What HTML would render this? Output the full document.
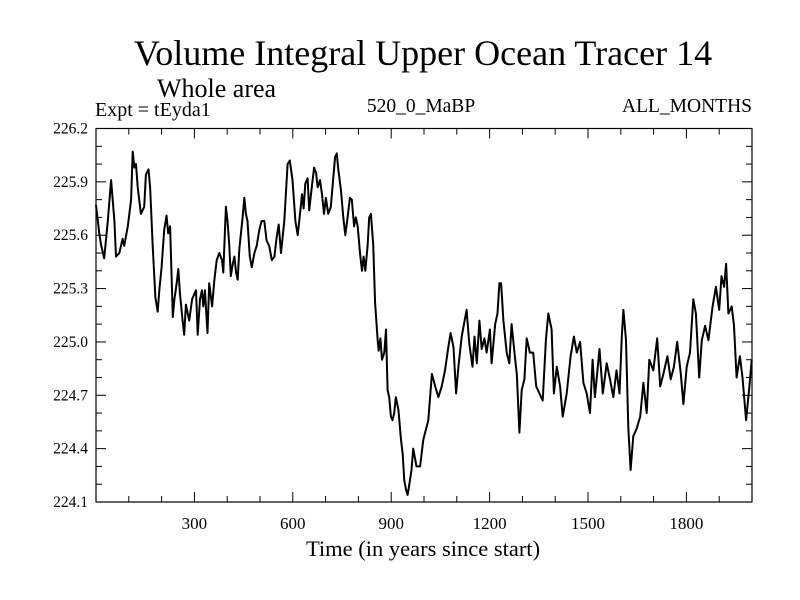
<!DOCTYPE html>
<html><head><meta charset="utf-8"><style>
body{margin:0;background:#fff}
svg{display:block;font-family:"Liberation Serif",serif}
</style></head><body>
<svg id="c" width="800" height="600">
<text x="423" y="65" font-size="36" text-anchor="middle">Volume Integral Upper Ocean Tracer 14</text>
<text x="157" y="97" font-size="26">Whole area</text>
<text x="95" y="116" font-size="20">Expt = tEyda1</text>
<text x="421" y="112" font-size="19.5" text-anchor="middle">520_0_MaBP</text>
<text x="752" y="112" font-size="19.5" text-anchor="end">ALL_MONTHS</text>
<text x="423" y="556" font-size="22.5" text-anchor="middle">Time (in years since start)</text>
<g id="axes"></g>
<path id="line" fill="none" stroke="#000" stroke-width="2" stroke-linejoin="round"></path>
<rect x="96" y="128.5" width="656" height="373.5" fill="none" stroke="#000" stroke-width="1.2"/>
</svg>
<script>
const years=[0,10,15,25,36,46,56,61,71,81,86,97,107,112,117,122,127,137,147,152,160,165,173,181,188,193,200,208,215,220,226,234,239,246,251,256,264,269,274,284,293,300,305,310,317,323,327,332,340,345,354,361,368,376,384,388,396,401,406,411,417,422,427,432,437,447,452,457,462,469,475,483,490,498,505,513,520,528,536,544,551,557,564,574,584,591,599,608,615,622,628,633,638,645,650,658,665,671,676,683,689,695,701,708,716,723,729,734,738,747,754,760,767,774,780,787,792,798,805,811,816,821,828,833,838,845,851,859,862,867,872,879,884,889,894,899,904,909,914,922,930,935,940,945,950,957,962,967,977,988,998,1013,1024,1034,1044,1054,1064,1074,1081,1090,1098,1105,1115,1122,1130,1138,1148,1154,1161,1169,1176,1184,1191,1201,1206,1217,1224,1230,1235,1242,1252,1260,1267,1278,1283,1291,1298,1306,1313,1323,1333,1342,1352,1362,1372,1379,1389,1396,1405,1415,1423,1435,1447,1457,1466,1476,1486,1496,1506,1514,1521,1535,1545,1557,1567,1577,1587,1596,1603,1608,1616,1623,1630,1638,1648,1659,1669,1679,1687,1699,1711,1720,1730,1742,1752,1762,1772,1783,1791,1801,1811,1821,1829,1839,1847,1857,1867,1880,1890,1900,1907,1915,1921,1928,1938,1945,1953,1963,1971,1982,1992,1999];
const values=[225.77,225.61,225.55,225.47,225.68,225.91,225.68,225.48,225.50,225.58,225.54,225.65,225.80,226.07,225.98,226.0,225.87,225.72,225.76,225.94,225.97,225.87,225.54,225.25,225.17,225.29,225.42,225.63,225.71,225.61,225.65,225.14,225.24,225.33,225.41,225.27,225.12,225.04,225.21,225.12,225.24,225.27,225.29,225.04,225.24,225.29,225.20,225.29,225.05,225.33,225.20,225.35,225.46,225.50,225.46,225.39,225.76,225.68,225.55,225.37,225.44,225.48,225.39,225.35,225.52,225.70,225.81,225.72,225.68,225.48,225.42,225.50,225.54,225.63,225.68,225.68,225.57,225.54,225.46,225.48,225.59,225.66,225.50,225.68,226.0,226.02,225.91,225.68,225.60,225.72,225.83,225.75,225.89,225.92,225.74,225.87,225.98,225.95,225.87,225.91,225.83,225.72,225.81,225.72,225.76,225.91,226.04,226.06,225.98,225.85,225.70,225.60,225.70,225.81,225.80,225.65,225.70,225.65,225.50,225.40,225.48,225.40,225.54,225.70,225.72,225.55,225.22,225.0,224.95,225.02,224.90,224.94,225.07,224.73,224.69,224.58,224.56,224.60,224.69,224.62,224.45,224.37,224.22,224.17,224.14,224.22,224.28,224.40,224.30,224.30,224.45,224.56,224.82,224.75,224.69,224.75,224.84,224.97,225.05,224.97,224.71,224.86,225.03,225.10,225.18,224.99,224.86,225.03,224.88,225.12,224.96,225.02,224.94,225.07,224.88,225.10,225.16,225.33,225.33,225.12,224.94,224.88,225.10,224.90,224.82,224.49,224.73,224.79,225.02,224.94,224.94,224.75,224.71,224.67,225.02,225.16,225.07,224.71,224.86,224.75,224.58,224.71,224.92,225.03,224.94,225.0,224.77,224.71,224.60,224.90,224.69,224.96,224.71,224.88,224.79,224.69,224.84,224.71,225.03,225.18,225.01,224.52,224.28,224.47,224.51,224.58,224.77,224.60,224.90,224.84,225.02,224.75,224.82,224.92,224.79,224.86,225.0,224.82,224.65,224.86,224.94,225.24,225.16,224.80,225.01,225.09,225.01,225.20,225.31,225.18,225.37,225.31,225.44,225.16,225.20,225.09,224.80,224.92,224.80,224.56,224.75,224.90];
const yTicks=["224.1","224.4","224.7","225.0","225.3","225.6","225.9","226.2"];
const xTicks=["300","600","900","1200","1500","1800"];
const X0=96,X1=752,Y0=128.5,Y1=502,XMIN=0,XMAX=2000,YMIN=224.1,YMAX=226.2;
const sx=v=>X0+(v-XMIN)/(XMAX-XMIN)*(X1-X0);
const sy=v=>Y1-(v-YMIN)/(YMAX-YMIN)*(Y1-Y0);
const NS="http://www.w3.org/2000/svg";
const g=document.getElementById('axes');
function mk(t,a){const e=document.createElementNS(NS,t);for(const k in a)e.setAttribute(k,a[k]);g.appendChild(e);return e;}
for(let v=100;v<2000;v+=100){const x=sx(v),L=v%300===0?10:6;
 const t1=mk('line',{x1:x,x2:x,y1:Y1,y2:Y1-L,stroke:'#000'});
 
 
 const t2=mk('line',{x1:x,x2:x,y1:Y0,y2:Y0+L,stroke:'#000'});
 
 }
for(let i=0;i<=21;i++){const v=YMIN+i*0.1,y=sy(v),L=i%3===0?10:6;
 const t1=mk('line',{x1:X0,x2:X0+L,y1:y,y2:y,stroke:'#000'});
 
 
 const t2=mk('line',{x1:X1,x2:X1-L,y1:y,y2:y,stroke:'#000'});
 
 }
yTicks.forEach(s=>{const t=mk('text',{x:88,y:sy(+s)+5,'font-size':15.5,'text-anchor':'end'});t.textContent=s;
 
 });
xTicks.forEach(s=>{const t=mk('text',{x:sx(+s),y:529,'font-size':17,'text-anchor':'middle'});t.textContent=s;
 
 });
document.getElementById('line').setAttribute('d',years.map((x,i)=>(i?'L':'M')+sx(x).toFixed(1)+' '+sy(values[i]).toFixed(1)).join(''));
</script>
</body></html>
